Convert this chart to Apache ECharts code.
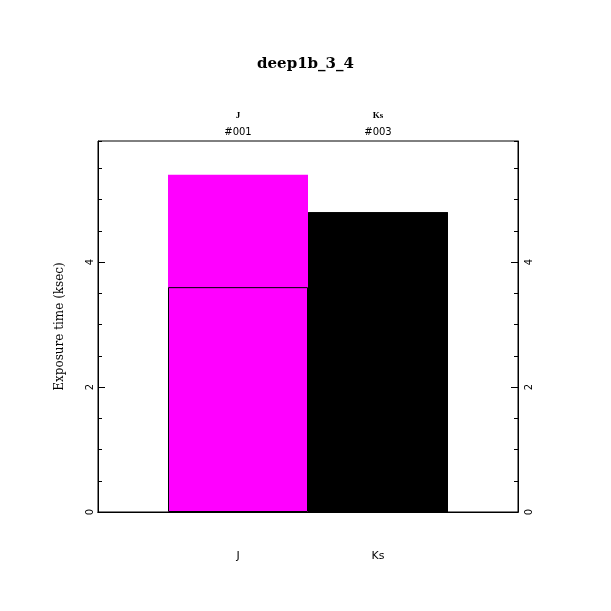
<!DOCTYPE html>
<html>
<head>
<meta charset="utf-8">
<script src="https://cdn.jsdelivr.net/npm/echarts@6/dist/echarts.min.js"></script>
<style>
  html, body { margin: 0; padding: 0; background: #fff; }
  #chart { width: 611px; height: 611px; }
</style>
</head>
<body>
<div id="chart"></div>
<script>
'use strict';

// filters along the x axis, placed at x = 1, 2 on a 0..3 scale
const filters = ['J', 'Ks'];
const frames = ['#001', '#003'];
const filterPos = [1, 2];
// exposure time (ksec): first chunk and total per filter
const firstExp = [3.6, 4.8];
const totalExp = [5.4, 4.8];
const barColors = ['#ff00ff', '#000000'];
const yMax = 5.94;

(function () {
  const chart = echarts.init(document.getElementById('chart'), null, { renderer: 'canvas' });

  function filterAt(v) {
    return filterPos.indexOf(v);
  }

  function majorY(pos, withName) {
    return {
      type: 'value',
      position: pos,
      min: 0,
      max: yMax,
      interval: 2,
      z: 10,
      name: withName ? 'Exposure time (ksec)' : '',
      nameLocation: 'middle',
      nameRotate: 90,
      nameGap: 32,
      nameTextStyle: { fontFamily: 'DejaVu Serif', fontSize: 12, color: '#000' },
      axisLine: { show: true, lineStyle: { color: '#000', width: 1 } },
      axisTick: { show: true, inside: true, length: 7, lineStyle: { color: '#000' } },
      axisLabel: {
        show: true, rotate: 90, margin: pos === 'left' ? 3 : 6, showMaxLabel: false,
        fontFamily: 'DejaVu Sans', fontSize: 10, color: '#000',
      },
      splitLine: { show: false },
    };
  }

  function minorY(pos) {
    return {
      type: 'value',
      position: pos,
      min: 0,
      max: yMax,
      interval: 0.5,
      z: 10,
      axisLine: { show: false },
      axisTick: { show: true, inside: true, length: 4, lineStyle: { color: '#000' } },
      axisLabel: { show: false },
      splitLine: { show: false },
    };
  }

  const option = {
    backgroundColor: '#fff',
    animation: false,
    title: {
      text: 'deep1b_3_4',
      left: 'center',
      top: 52,
      textStyle: { fontFamily: 'DejaVu Serif', fontSize: 15, fontWeight: 'bold', color: '#000' },
    },
    grid: {
      left: 98, top: 141, width: 420, height: 371,
      show: true, borderColor: '#000', borderWidth: 1, backgroundColor: 'transparent',
    },
    xAxis: [
      {
        type: 'value', position: 'bottom', min: 0, max: 3, interval: 1, z: 10,
        axisLine: { show: true, lineStyle: { color: '#000' } },
        axisTick: { show: false },
        splitLine: { show: false },
        axisLabel: {
          margin: 39, fontFamily: 'DejaVu Sans', fontSize: 11, color: '#000',
          formatter(v) {
            const i = filterAt(v);
            return i < 0 ? '' : filters[i];
          },
        },
      },
      {
        type: 'value', position: 'top', min: 0, max: 3, interval: 1, z: 10,
        axisLine: { show: true, lineStyle: { color: '#000' } },
        axisTick: { show: false },
        splitLine: { show: false },
        axisLabel: {
          margin: 0,
          formatter(v) {
            const i = filterAt(v);
            return i < 0 ? '' : `{f|${filters[i]}}\n{n|${frames[i]}}`;
          },
          rich: {
            f: { fontFamily: 'Liberation Serif', fontSize: 9, fontWeight: 'bold', color: '#000', lineHeight: 17 },
            n: { fontFamily: 'DejaVu Sans', fontSize: 10, color: '#000', lineHeight: 17 },
          },
        },
      },
    ],
    yAxis: [majorY('left', true), minorY('left'), majorY('right', false), minorY('right')],
    series: [
      {
        type: 'bar',
        barWidth: 140,
        barGap: '-100%',
        data: filterPos.map((x, i) => ({
          value: [x, totalExp[i]],
          itemStyle: { color: barColors[i], borderWidth: 0 },
        })),
      },
      {
        type: 'bar',
        barWidth: 140,
        barGap: '-100%',
        data: filterPos.map((x, i) => ({
          value: [x, firstExp[i]],
          itemStyle: { color: barColors[i], borderColor: '#000', borderWidth: 1 },
        })),
      },
    ],
  };

  chart.setOption(option);
})();
</script>
</body>
</html>
